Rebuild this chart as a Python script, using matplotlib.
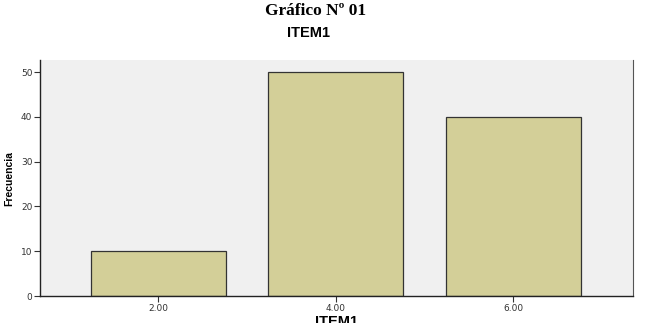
import matplotlib.pyplot as plt
from matplotlib import font_manager

categories = ["2.00", "4.00", "6.00"]
frecuencia = [10, 50, 40]

installed = {f.name for f in font_manager.fontManager.ttflist}
narrow = "Liberation Sans Narrow" if "Liberation Sans Narrow" in installed else "Liberation Sans"

fig = plt.figure(figsize=(6.46, 3.23), dpi=100)
ax = fig.add_axes([40 / 646, 27 / 323, 593 / 646, 236 / 323])
ax.set_facecolor("#f0f0f0")

pos = range(len(categories))
ax.bar(pos, frecuencia, width=0.76, color="#d3cf98", edgecolor="#333333", linewidth=0.9)

ax.set_xlim(-0.665, 2.675)
ax.set_ylim(0, 52.7)
ax.set_yticks([0, 10, 20, 30, 40, 50])
ax.set_xticks(list(pos))
ax.set_xticklabels(categories)
ax.tick_params(axis="both", labelsize=6.5, colors="#333333", length=4, width=0.8, pad=1.5)

for s in ["left", "bottom"]:
    ax.spines[s].set_color("#222222")
    ax.spines[s].set_linewidth(1.0)
ax.spines["right"].set_color("#555555")
ax.spines["right"].set_linewidth(0.8)
ax.spines["top"].set_visible(False)

ax.set_ylabel("Frecuencia", fontsize=7.5, fontweight="bold", family=narrow)
ax.yaxis.set_label_coords(-0.043, 0.5)

fig.text(316 / 646, 0.965, "Gráfico Nº 01", ha="center", va="center", fontsize=12.5,
         fontweight="bold", family="Liberation Serif")
fig.text(309 / 646, 0.897, "ITEM1", ha="center", va="center", fontsize=10.5, fontweight="bold",
         family="Liberation Sans")
fig.text(336 / 646, 0.003, "ITEM1", ha="center", va="center", fontsize=10.5,
         fontweight="bold", family="Liberation Sans")

fig.savefig("out.png", dpi=100)
